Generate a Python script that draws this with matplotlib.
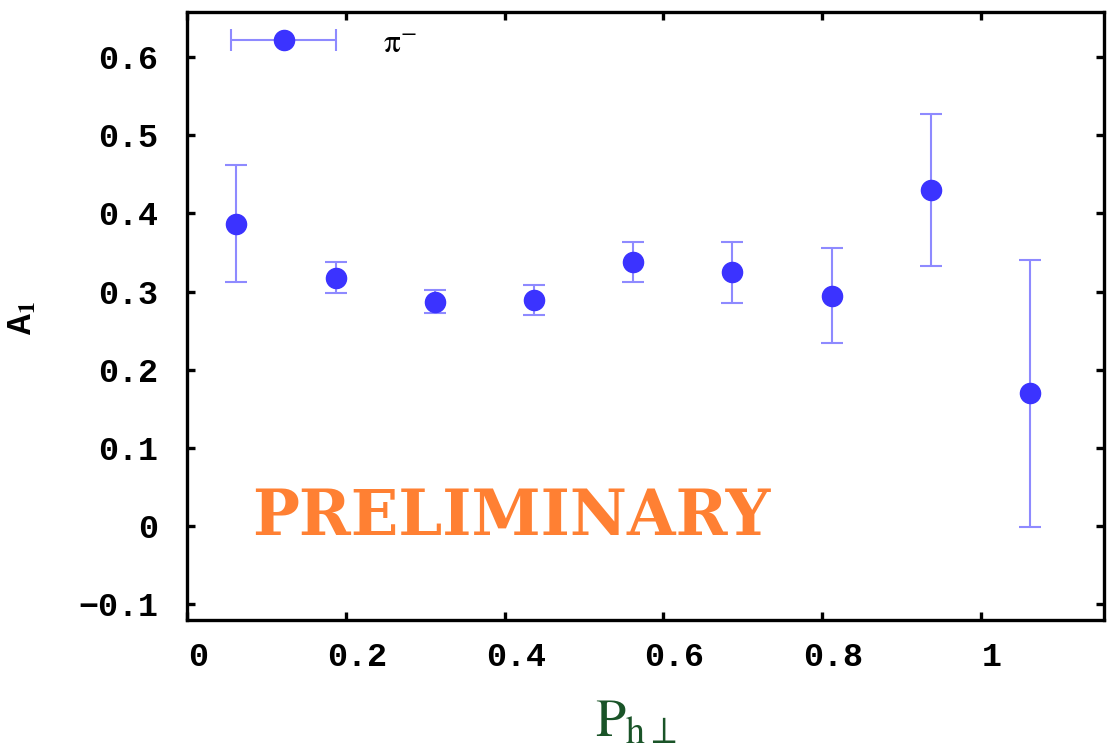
import numpy as np
import matplotlib
matplotlib.use('Agg')
import matplotlib.pyplot as plt
import matplotlib.transforms as mtransforms
from matplotlib.legend_handler import HandlerErrorbar
from matplotlib.container import ErrorbarContainer

plt.rcParams['mathtext.fontset'] = 'stix'

# data
pt = [0.062, 0.187, 0.312, 0.437, 0.562, 0.687, 0.812, 0.937, 1.062]
a1 = [0.387, 0.318, 0.287, 0.289, 0.338, 0.325, 0.295, 0.430, 0.170]
a1_err = [0.075, 0.020, 0.015, 0.019, 0.026, 0.039, 0.061, 0.097, 0.171]

xticks = [0, 0.2, 0.4, 0.6, 0.8, 1]
xtick_labels = ['0', '0.2', '0.4', '0.6', '0.8', '1']
yticks = [-0.1, 0, 0.1, 0.2, 0.3, 0.4, 0.5, 0.6]
ytick_labels = ['\u22120.1', '0', '0.1', '0.2', '0.3', '0.4', '0.5', '0.6']

mark_col = '#3b33ff'
err_col = '#8e8aff'

fig = plt.figure(figsize=(11.07, 7.52), dpi=100)
ax = fig.add_axes([0.169, 0.1755, 0.8283, 0.809])

ax.errorbar(pt, a1, yerr=a1_err, fmt='o', color=mark_col, ms=14.5,
            ecolor=err_col, elinewidth=1.5, capsize=8, capthick=1.5, zorder=3)

# proxy only for the legend (horizontal bar like the original)
proxy = ax.errorbar([np.nan], [np.nan], xerr=[0.0], fmt='o', color=mark_col, ms=14.5,
                    ecolor=err_col, elinewidth=1.5, capsize=8, capthick=1.5,
                    label=r'$\mathrm{\pi}^{-}$')

ax.set_xlim(0, 1.155)
ax.set_ylim(-0.12, 0.658)

ax.set_xticks(xticks)
ax.set_xticklabels(xtick_labels)
ax.set_yticks(yticks)
ax.set_yticklabels(ytick_labels)

for sp in ax.spines.values():
    sp.set_linewidth(2.4)
ax.tick_params(direction='in', length=6, width=2.4, top=True, right=True,
               labelsize=24)
ax.tick_params(axis='x', pad=16)
ax.tick_params(axis='y', pad=21)
shift = mtransforms.ScaledTranslation(0.11, 0, fig.dpi_scale_trans)
for lab in ax.get_xticklabels():
    lab.set_transform(lab.get_transform() + shift)
for lab in ax.get_xticklabels() + ax.get_yticklabels():
    lab.set_family('Liberation Mono')
    lab.set_fontweight('bold')

ax.set_xlabel(r'$\mathrm{P}_{\mathrm{h}\perp}$', fontsize=39, color='#1a5428')
ax.xaxis.set_label_coords(0.489, -0.124)
ax.set_ylabel('A$_{\\mathbf{1}}$', fontsize=25, family='Liberation Mono', fontweight='bold')
ax.yaxis.set_label_coords(-0.162, 0.497)

ax.legend(handles=[proxy], loc='upper left', bbox_to_anchor=(0.0153, 1.026),
          frameon=False, fontsize=24, handlelength=3.15, handletextpad=1.4,
          handler_map={ErrorbarContainer: HandlerErrorbar(xerr_size=1.57)})

ax.text(0.408, 0.011, 'PRELIMINARY', color='#ff8033', fontsize=45,
        fontweight='bold', family='DejaVu Serif', ha='center', va='center')

fig.savefig('out.png', dpi=100)
